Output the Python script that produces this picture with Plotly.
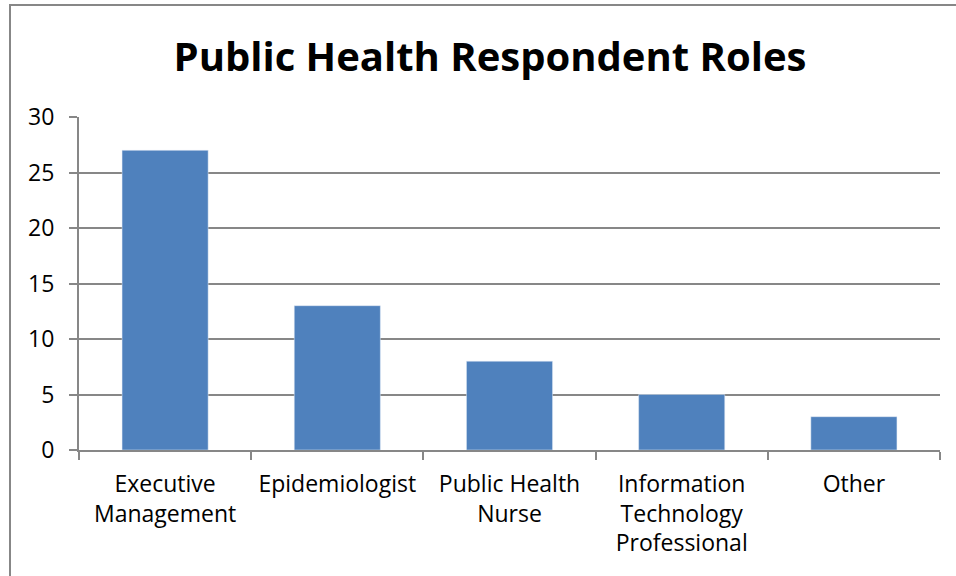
import plotly.graph_objects as go

roles = ["Executive<br>Management", "Epidemiologist", "Public Health<br>Nurse",
         "Information<br>Technology<br>Professional", "Other"]
counts = [27, 13, 8, 5, 3]

grey = "#878787"
font = "Open Sans, Noto Sans, sans-serif"

fig = go.Figure(go.Bar(x=roles, y=counts, marker_color="#4F81BD", width=0.5))

fig.update_layout(
    width=956, height=576,
    margin=dict(l=79, r=16, t=117, b=126),
    paper_bgcolor="white", plot_bgcolor="white",
    showlegend=False,
    title=dict(text="<b>Public Health Respondent Roles</b>", x=490 / 956, xanchor="center",
               y=1 - 57 / 576, yanchor="middle", font=dict(family=font, size=40, color="black")),
    font=dict(family=font, size=23, color="black"),
)
fig.update_xaxes(showline=True, linecolor=grey, linewidth=2, ticks="outside", ticklen=8,
                 tickcolor=grey, tickwidth=2, tickson="boundaries", showgrid=False,
                 ticklabelstandoff=12, tickfont=dict(size=23))
fig.update_yaxes(range=[0, 30], dtick=5, showline=True, linecolor=grey, linewidth=2,
                 ticks="outside", ticklen=8, tickcolor=grey, tickwidth=2,
                 showgrid=True, gridcolor=grey, gridwidth=2, zeroline=False,
                 ticklabelstandoff=10, tickfont=dict(size=23))

# chart frame
fig.add_shape(type="rect", xref="paper", yref="paper",
              x0=(10 - 79) / 861, x1=1.2, y0=-0.5, y1=1 + (117 - 5) / 333,
              line=dict(color=grey, width=2), layer="below")

fig.write_html("out.html", config={"displayModeBar": False},
               post_script="document.body.style.margin='0';")
